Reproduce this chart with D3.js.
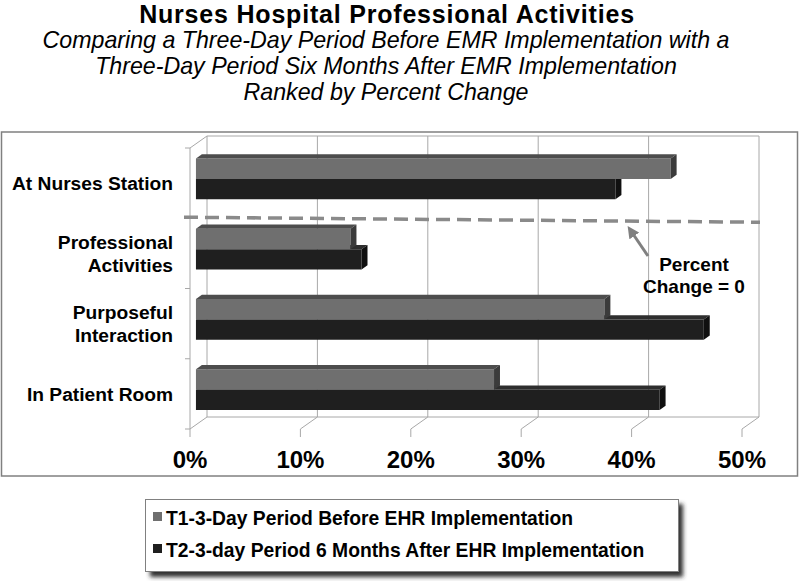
<!DOCTYPE html>
<html>
<head>
<meta charset="utf-8">
<script src="https://cdn.jsdelivr.net/npm/d3@7"></script>
<style>
  body { margin: 0; background: #fff; }
  svg { display: block; font-family: 'Liberation Sans', Arial, sans-serif; }
</style>
</head>
<body>
<svg width="800" height="581"></svg>
<script>
const categoryLabels = [
  ['At Nurses Station'],
  ['Professional', 'Activities'],
  ['Purposeful', 'Interaction'],
  ['In Patient Room']
];
const categories = categoryLabels.map(l => l.join(' '));
const seriesNames = [
  'T1-3-Day Period Before EHR Implementation',
  'T2-3-day Period 6 Months After EHR Implementation'
];
const t1Values = [0.43, 0.14, 0.37, 0.27];
const t2Values = [0.38, 0.15, 0.46, 0.42];
const tickValues = [0, 0.1, 0.2, 0.3, 0.4, 0.5];
const titleText = 'Nurses Hospital Professional Activities';
const subtitleLines = [
  'Comparing a Three-Day Period Before EMR Implementation with a',
  'Three-Day Period Six Months After EMR Implementation',
  'Ranked by Percent Change'
];
const noteLines = ['Percent', 'Change = 0'];

const seriesColors = {
  front: ['#6f6f6f', '#1f1f1f'],
  top: ['#4d4d4d', '#2e2e2e'],
  side: ['#3b3b3b', '#101010']
};

const DEPTH_X = 17;
const DEPTH_Y = -12;
const BAR_D0 = 0.35;
const BAR_D1 = 0.7;

const svg = d3.select('svg');

// scales on the front plane
const x = d3.scaleLinear().domain([0, 0.5]).range([190, 742]);
const y = d3.scaleBand().domain(categories).range([148, 429])
  .paddingInner(0.42).paddingOuter(0.21);
const ySeries = d3.scaleBand().domain(seriesNames).range([0, y.bandwidth()]);

const proj = (v, yy, d) => [x(v) + d * DEPTH_X, yy + d * DEPTH_Y];
const yTop = y.range()[0];
const yBot = y.range()[1];
const line = d3.line();

// titles
svg.append('text')
  .attr('x', 387).attr('y', 23)
  .attr('text-anchor', 'middle')
  .attr('font-size', 25).attr('font-weight', 'bold')
  .attr('letter-spacing', 0.8)
  .text(titleText);

svg.selectAll('.subtitle')
  .data(subtitleLines)
  .enter()
  .append('text')
  .attr('class', 'subtitle')
  .attr('x', 386)
  .attr('y', (d, i) => 48 + i * 26)
  .attr('text-anchor', 'middle')
  .attr('font-size', 23.2).attr('font-style', 'italic')
  .text(d => d);

// chart frame
svg.append('rect')
  .attr('x', 1.5).attr('y', 132).attr('width', 796).attr('height', 344)
  .attr('fill', '#fff').attr('stroke', '#808080').attr('stroke-width', 1.5);

const grid = svg.append('g').attr('stroke', '#a8a8a8').attr('fill', 'none').attr('stroke-width', 1);

// back wall gridlines
grid.selectAll('.gl')
  .data(tickValues)
  .enter()
  .append('path')
  .attr('d', v => line([proj(v, yTop, 1), proj(v, yBot, 1)]));
grid.append('path').attr('d', line([proj(0, yTop, 1), proj(0.5, yTop, 1)]));
grid.append('path').attr('d', line([proj(0, yBot, 1), proj(0.5, yBot, 1)]));

// floor lines
grid.selectAll('.fl')
  .data(tickValues)
  .enter()
  .append('path')
  .attr('d', v => line([proj(v, yBot, 1), proj(v, yBot, 0)]));

// left wall
grid.append('path').attr('d', line([proj(0, yTop, 0), proj(0, yBot, 0)]));
grid.append('path').attr('d', line([proj(0, yTop, 0), proj(0, yTop, 1)]));

// ticks
const ticksY = categories.map(c => y(c) - y.step() * y.paddingInner() / 2).concat([yBot]);
grid.selectAll('.ty')
  .data(ticksY)
  .enter()
  .append('path')
  .attr('d', t => line([[x(0) - 5, t], [x(0), t]]));
grid.selectAll('.tx')
  .data(tickValues)
  .enter()
  .append('path')
  .attr('d', v => line([[x(v), yBot], [x(v), yBot + 8]]));

// tick labels
svg.selectAll('.xlabel')
  .data(tickValues)
  .enter()
  .append('text')
  .attr('x', v => x(v))
  .attr('y', 468)
  .attr('text-anchor', 'middle')
  .attr('font-size', 24).attr('font-weight', 'bold')
  .text(v => d3.format('.0%')(v));

// category labels
const catLabel = svg.selectAll('.cat')
  .data(categories)
  .enter()
  .append('text')
  .attr('text-anchor', 'end')
  .attr('font-size', 19.2).attr('font-weight', 'bold');
catLabel.each(function (c, i) {
  const lines = categoryLabels[i];
  const cy = y(c) + y.bandwidth() / 2;
  d3.select(this).selectAll('tspan')
    .data(lines)
    .enter()
    .append('tspan')
    .attr('x', 173)
    .attr('y', (l, j) => cy + 7 + (j - (lines.length - 1) / 2) * 23)
    .text(l => l);
});

// bars
const barData = [];
categories.forEach((c, i) => {
  [t2Values[i], t1Values[i]].forEach((v, k) => {
    const s = 1 - k;
    barData.push({ cat: c, s: s, value: v });
  });
});

const bars = svg.append('g').selectAll('g')
  .data(barData)
  .enter()
  .append('g');

bars.each(function (b) {
  const g = d3.select(this);
  const y0 = y(b.cat) + ySeries(seriesNames[b.s]);
  const y1 = y0 + ySeries.bandwidth();
  g.append('path')
    .attr('fill', seriesColors.front[b.s])
    .attr('d', line([proj(0, y0, BAR_D0), proj(b.value, y0, BAR_D0), proj(b.value, y1, BAR_D0), proj(0, y1, BAR_D0)]) + 'Z');
  g.append('path')
    .attr('fill', seriesColors.top[b.s])
    .attr('d', line([proj(0, y0, BAR_D0), proj(b.value, y0, BAR_D0), proj(b.value, y0, BAR_D1), proj(0, y0, BAR_D1)]) + 'Z');
  g.append('path')
    .attr('fill', seriesColors.side[b.s])
    .attr('d', line([proj(b.value, y0, BAR_D0), proj(b.value, y0, BAR_D1), proj(b.value, y1, BAR_D1), proj(b.value, y1, BAR_D0)]) + 'Z');
});

// percent change = 0 reference line
const yZero = ticksY[1];
svg.append('path')
  .attr('d', line([[x(0) - 6, yZero - 1], [proj(0.5, yZero, 1)[0] + 1, yZero + 4]]))
  .attr('stroke', '#8a8a8a').attr('stroke-width', 3.5)
  .attr('stroke-dasharray', '14,7').attr('fill', 'none');

svg.append('defs').append('marker')
  .attr('id', 'arrow')
  .attr('viewBox', '0 0 10 10')
  .attr('refX', 5).attr('refY', 5)
  .attr('markerWidth', 4).attr('markerHeight', 4)
  .attr('orient', 'auto')
  .append('path')
  .attr('d', 'M0,0L10,5L0,10Z')
  .attr('fill', '#808080');

svg.append('path')
  .attr('d', line([[648, 256], [631, 231]]))
  .attr('stroke', '#808080').attr('stroke-width', 3)
  .attr('marker-end', 'url(#arrow)');

svg.selectAll('.note')
  .data(noteLines)
  .enter()
  .append('text')
  .attr('x', 694)
  .attr('y', (d, i) => 271 + i * 22)
  .attr('text-anchor', 'middle')
  .attr('font-size', 19).attr('font-weight', 'bold')
  .text(d => d);

// legend
const defs = svg.select('defs');
const blur = defs.append('filter').attr('id', 'shadow')
  .attr('x', '-5%').attr('y', '-20%').attr('width', '115%').attr('height', '150%');
blur.append('feGaussianBlur').attr('stdDeviation', 2);

const legend = svg.append('g');
legend.append('rect')
  .attr('x', 150).attr('y', 504).attr('width', 533).attr('height', 73)
  .attr('fill', '#333').attr('filter', 'url(#shadow)');
legend.append('rect')
  .attr('x', 145.5).attr('y', 499.5).attr('width', 533).attr('height', 72)
  .attr('fill', '#fff').attr('stroke', '#808080').attr('stroke-width', 1);

const legendItem = legend.selectAll('.li')
  .data(seriesNames)
  .enter()
  .append('g')
  .attr('transform', (d, i) => `translate(0, ${525 + i * 32})`);
legendItem.append('rect')
  .attr('x', 153).attr('y', -13).attr('width', 9).attr('height', 9)
  .attr('fill', (d, i) => seriesColors.front[i]);
legendItem.append('text')
  .attr('x', 166).attr('y', 0)
  .attr('font-size', 19.3).attr('font-weight', 'bold')
  .text(d => d);
</script>
</body>
</html>
